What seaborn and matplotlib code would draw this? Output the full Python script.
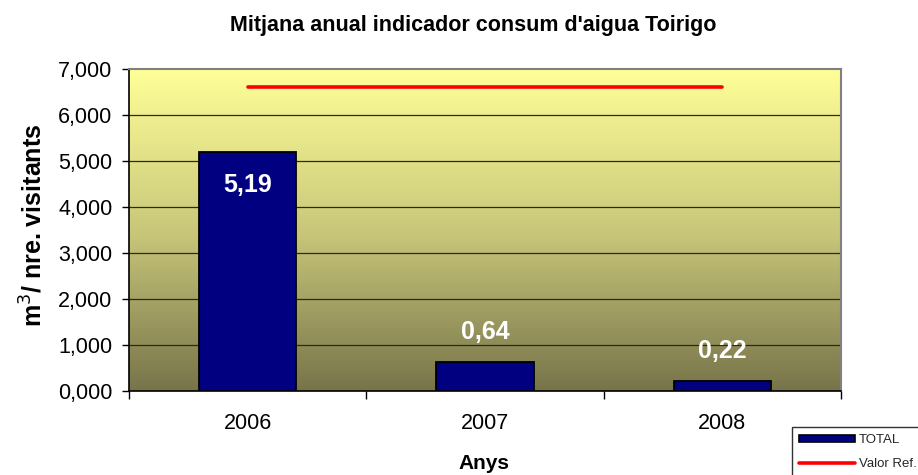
import numpy as np
import pandas as pd
import matplotlib
matplotlib.use("Agg")
import matplotlib.pyplot as plt
from matplotlib.colors import LinearSegmentedColormap
from matplotlib.ticker import FuncFormatter
from matplotlib.lines import Line2D
from matplotlib.patches import Patch
import seaborn as sns

# Data
years = ["2006", "2007", "2008"]
total = [5.19, 0.64, 0.22]
reference = [6.6, 6.6, 6.6]
value_labels = ["5,19", "0,64", "0,22"]
yticks = [0, 1, 2, 3, 4, 5, 6, 7]

sns.set_theme(style="white")
plt.rcParams["font.family"] = ["Liberation Sans", "DejaVu Sans"]

W, H = 918, 475
fig = plt.figure(figsize=(W / 100, H / 100), dpi=100)
ax = fig.add_axes([129 / W, 1 - 391 / H, 712 / W, 322 / H])

df = pd.DataFrame({"Anys": years, "TOTAL": total})

# Vertical gradient behind the bars
cmap = LinearSegmentedColormap.from_list("bg", ["#77744a", "#c9c87a", "#ffff99"])
grad = np.linspace(0, 1, 256).reshape(-1, 1)
ax.imshow(grad, extent=[-0.5, 2.5, 0, 7], origin="lower", aspect="auto",
          cmap=cmap, zorder=-10)

for v in yticks[1:-1]:
    ax.axhline(v, color="#2a2a1a", lw=0.9, zorder=1)

sns.barplot(data=df, x="Anys", y="TOTAL", ax=ax, color="#000080",
            width=0.41, edgecolor="black", linewidth=1.3, saturation=1,
            zorder=3)

sns.lineplot(x=np.arange(len(years)), y=reference, ax=ax, color="#ff0000",
             lw=2.6, zorder=4, solid_capstyle="round", legend=False)

# Value labels
for i, (v, lab) in enumerate(zip(total, value_labels)):
    y = v - 0.72 if v > 2 else v + 0.64
    ax.text(i, y, lab, color="white", fontsize=18, fontweight="bold",
            ha="center", va="center", zorder=5)

ax.set_xlim(-0.5, 2.5)
ax.set_ylim(0, 7)
ax.set_yticks(yticks)
ax.yaxis.set_major_formatter(FuncFormatter(lambda v, p: f"{v:.3f}".replace(".", ",")))
ax.set_xticks([0, 1, 2])
ax.set_xticklabels(years)

# Category boundary ticks on x axis
ax.set_xticks([-0.5, 0.5, 1.5, 2.5], minor=True)
ax.tick_params(axis="x", which="major", length=0, labelsize=15.5, pad=15.5, colors="black")
ax.tick_params(axis="x", which="minor", length=6, width=1, color="black", direction="out", bottom=True)
ax.tick_params(axis="y", which="major", length=5, width=1, color="black", direction="out",
               labelsize=15.5, pad=7, left=True, labelcolor="black")

ax.set_xlabel("")
ax.set_ylabel("")
fig.text(484 / W, 1 - 469 / H, "Anys", fontsize=15, fontweight="bold",
         ha="center", va="baseline", color="black")
fig.text(34 / W, 1 - 225 / H, "m$^3$/ nre. visitants", fontsize=18, fontweight="bold",
         rotation=90, ha="center", va="center", color="black")
fig.text(473 / W, 1 - 25 / H, "Mitjana anual indicador consum d'aigua Toirigo",
         fontsize=15.5, fontweight="bold", ha="center", va="center", color="black")

for side in ["left", "bottom"]:
    ax.spines[side].set_color("black")
    ax.spines[side].set_linewidth(1.2)
for side in ["top", "right"]:
    ax.spines[side].set_color("#808080")
    ax.spines[side].set_linewidth(1.5)
for s in ax.spines.values():
    s.set_visible(True)

handles = [Patch(facecolor="#000080", edgecolor="black", linewidth=1.2, label="TOTAL"),
           Line2D([0], [0], color="#ff0000", lw=2.6, label="Valor Ref.")]
leg = fig.legend(handles=handles, loc="upper left", bbox_to_anchor=(792 / W, 1 - 427 / H),
                 fontsize=9.5, frameon=True, fancybox=False, handlelength=4.2,
                 handleheight=0.5, handletextpad=0.3, borderpad=0.55, labelspacing=0.9,
                 borderaxespad=0)
leg.get_frame().set_edgecolor("black")
leg.get_frame().set_linewidth(1.0)

fig.savefig("out.png", dpi=100)
